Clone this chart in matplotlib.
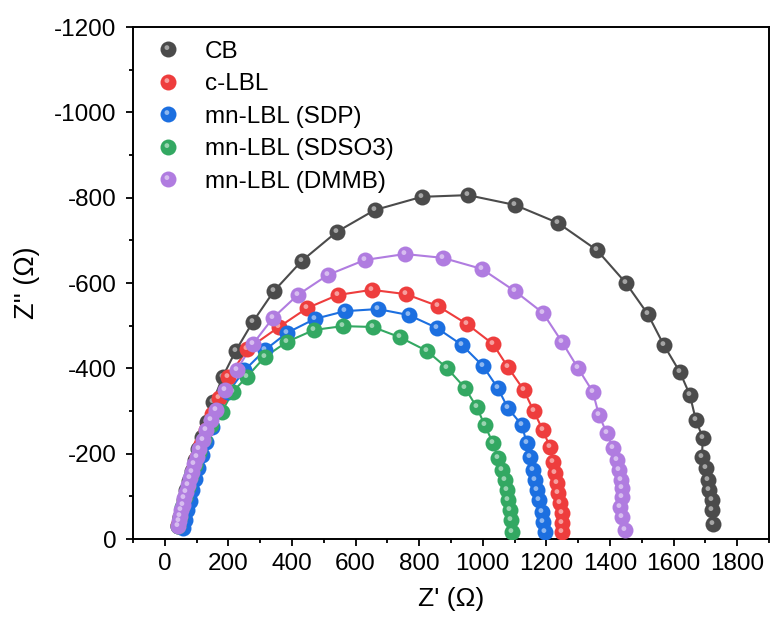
import matplotlib
matplotlib.use('Agg')
import matplotlib.pyplot as plt
import numpy as np
from matplotlib.lines import Line2D
from matplotlib.path import Path

plt.rcParams['font.family'] = ['Liberation Sans', 'DejaVu Sans']
plt.rcParams['axes.unicode_minus'] = False

# Nyquist data, Z' and Z'' in ohm
labels = ['CB', 'c-LBL', 'mn-LBL (SDP)', 'mn-LBL (SDSO3)', 'mn-LBL (DMMB)']
colors = ['#4b4b4b', '#ee3d3d', '#1c6fe0', '#33a862', '#b07ce0']

zr_cb = [40, 47, 54, 61, 68, 76, 85, 95, 106, 118, 132, 151, 182, 223, 277, 343, 431, 541, 660, 808,
         953, 1101, 1236, 1359, 1450, 1519, 1569, 1620, 1651, 1670, 1692, 1689, 1701, 1708, 1711, 1720,
         1720, 1723]
zi_cb = [-30, -50, -70, -92, -114, -137, -160, -185, -212, -240, -274, -321, -380, -441, -509, -581, -652, -720, -771, -802,
         -806, -783, -741, -677, -600, -527, -455, -391, -338, -279, -237, -192, -166, -138, -115, -91,
         -68, -35]

zr_clbl = [42, 49, 56, 64, 72, 81, 91, 102, 115, 130, 148, 170, 200, 260, 359, 447, 544, 651, 758, 859,
           950, 1032, 1079, 1129, 1160, 1189, 1211, 1220, 1227, 1233, 1236, 1242, 1249, 1249, 1249]
zi_clbl = [-32, -52, -72, -95, -118, -142, -167, -193, -222, -255, -292, -330, -380, -445, -497, -541, -572, -584, -574, -546,
           -504, -457, -403, -349, -300, -255, -216, -180, -155, -131, -108, -84, -61, -38, -16]

zr_sdp = [58, 64, 71, 78, 86, 95, 105, 117, 131, 148, 170, 200, 250, 315, 384, 472, 566, 670, 767, 855,
          934, 1000, 1047, 1079, 1123, 1138, 1148, 1157, 1164, 1170, 1176, 1186, 1189, 1195]
zi_sdp = [-25, -45, -67, -90, -114, -140, -167, -196, -227, -262, -300, -345, -395, -443, -483, -516, -534, -539, -525, -495,
          -455, -406, -354, -307, -267, -225, -192, -162, -138, -115, -91, -63, -40, -16]

zr_sdso3 = [40, 47, 55, 63, 72, 82, 94, 108, 124, 145, 179, 214, 258, 315, 384, 469, 560, 654, 739, 824,
            887, 944, 981, 1006, 1032, 1047, 1060, 1069, 1076, 1079, 1085, 1088, 1091]
zi_sdso3 = [-30, -52, -75, -98, -122, -147, -174, -203, -235, -268, -298, -345, -380, -427, -462, -490, -499, -497, -473, -441,
            -401, -354, -309, -267, -225, -190, -162, -138, -115, -91, -68, -45, -16]

zr_dmmb = [40, 44, 48, 52, 56, 61, 66, 72, 78, 85, 92, 100, 109, 119, 131, 144, 160, 189, 226, 277,
           340, 418, 513, 629, 755, 874, 997, 1101, 1189, 1249, 1299, 1346, 1365, 1390, 1409, 1422,
           1428, 1434, 1437, 1437, 1431, 1437, 1447]
zi_dmmb = [-30, -42, -55, -68, -80, -95, -110, -126, -142, -158, -175, -193, -212, -232, -255, -278, -302, -349, -396, -457,
           -518, -572, -619, -654, -668, -659, -633, -581, -530, -462, -401, -345, -291, -248, -213, -185,
           -162, -138, -120, -98, -75, -52, -21]

series = [(zr_cb, zi_cb), (zr_clbl, zi_clbl), (zr_sdp, zi_sdp), (zr_sdso3, zi_sdso3), (zr_dmmb, zi_dmmb)]

# highlight spot, offset to the upper left of the ball
circ = Path.circle(center=(-0.1, 0.12), radius=0.15)
spot = Path(np.vstack([[[0.5, 0.5]], circ.vertices]), [Path.MOVETO] + list(circ.codes))

fig = plt.figure(figsize=(7.7, 6.3), dpi=100)
ax = fig.add_axes([0.1727, 0.1444, 0.8260, 0.8127])

ms = 11.5
handles = []
for (zr, zi), c, lab in zip(series, colors, labels):
    ax.plot(zr, zi, '-', color=c, lw=1.5, zorder=2)
    ax.plot(zr, zi, 'o', color=c, ms=ms, mec='none', zorder=3)
    ax.plot(zr, zi, ls='none', marker=spot, color='white', ms=ms, mec='none', alpha=0.5, zorder=3)
    h1 = Line2D([], [], ls='none', marker='o', color=c, ms=ms, mec='none')
    h2 = Line2D([], [], ls='none', marker=spot, color='white', ms=ms, mec='none', alpha=0.5)
    handles.append((h1, h2))

ax.set_xlim(-100, 1900)
ax.set_ylim(0, -1200)
ax.set_xticks(range(0, 1801, 200))
ax.set_xticks(range(-100, 1901, 200), minor=True)
ax.set_yticks(range(0, -1201, -200))
ax.set_yticks(range(-100, -1201, -200), minor=True)

ax.tick_params(which='major', direction='out', length=5, width=1.3, labelsize=17.5, pad=5)
ax.tick_params(which='minor', direction='out', length=3, width=1.3)
ax.tick_params(axis='y', which='major', pad=7)
for s in ax.spines.values():
    s.set_linewidth(1.4)

ax.set_xlabel("Z' (\u03a9)", fontsize=19, labelpad=9)
ax.set_ylabel("Z'' (\u03a9)", fontsize=19.5, labelpad=10)

ax.legend(handles, labels, loc='upper left', bbox_to_anchor=(0.02, 0.992), frameon=False,
          fontsize=17.5, handlelength=1.0, handletextpad=1.03, labelspacing=0.43, borderaxespad=0)

fig.savefig('out.png', dpi=100)
